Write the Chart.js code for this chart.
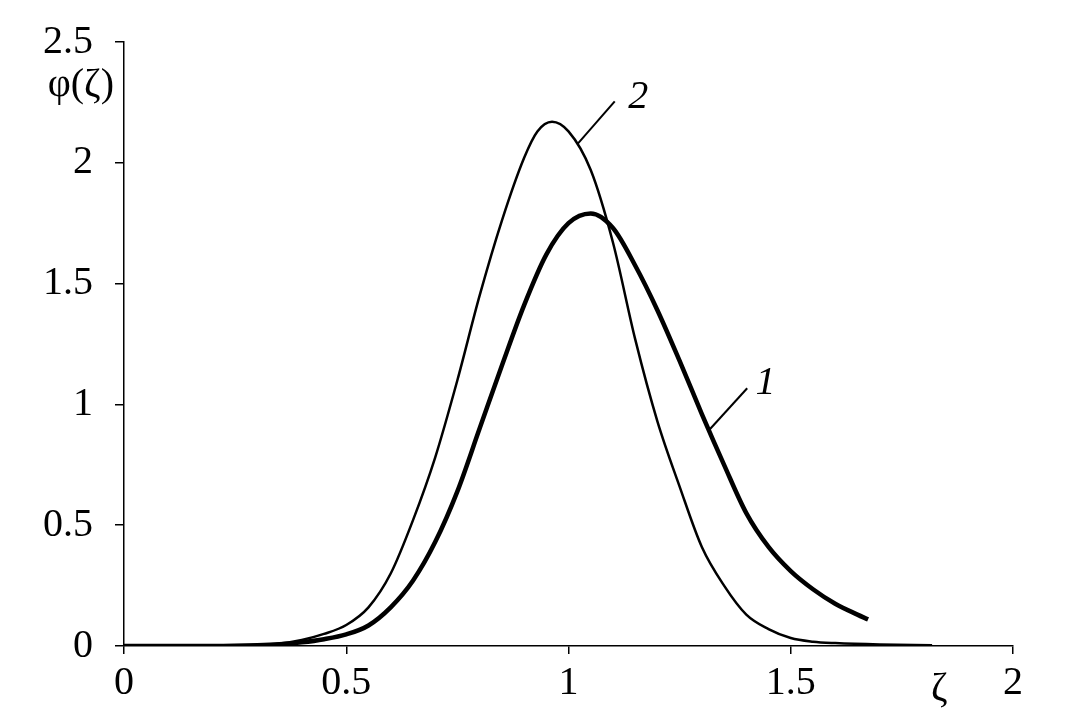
<!DOCTYPE html>
<html>
<head>
<meta charset="utf-8">
<script src="https://cdn.jsdelivr.net/npm/chart.js@4"></script>
<style>
  body { margin: 0; background: #fff; }
  canvas { display: block; }
</style>
</head>
<body>
<canvas id="chart1" width="1081" height="719"></canvas>
<script>
// curve 1 (thick)
const xs1 = [0, 0.1, 0.2, 0.3, 0.35, 0.4, 0.45, 0.5, 0.55, 0.6, 0.65, 0.7, 0.75, 0.8, 0.85, 0.9, 0.95, 1.0, 1.05, 1.1, 1.15, 1.2, 1.25, 1.3, 1.35, 1.4, 1.45, 1.5, 1.55, 1.6, 1.65, 1.674];
const ys1 = [0, 0, 0, 0.003, 0.007, 0.015, 0.028, 0.048, 0.085, 0.16, 0.27, 0.43, 0.64, 0.9, 1.16, 1.41, 1.62, 1.75, 1.79, 1.73, 1.575, 1.39, 1.18, 0.96, 0.75, 0.55, 0.41, 0.31, 0.235, 0.175, 0.13, 0.11];
// curve 2 (thin)
const xs2 = [0, 0.2, 0.3, 0.35, 0.4, 0.45, 0.5, 0.55, 0.6, 0.65, 0.7, 0.75, 0.8, 0.85, 0.9, 0.93, 0.963, 1.0, 1.05, 1.1, 1.15, 1.2, 1.25, 1.3, 1.35, 1.4, 1.45, 1.5, 1.55, 1.6, 1.7, 1.818];
const ys2 = [0, 0, 0.004, 0.01, 0.025, 0.05, 0.087, 0.16, 0.3, 0.52, 0.78, 1.1, 1.45, 1.76, 2.02, 2.13, 2.17, 2.13, 1.97, 1.67, 1.27, 0.93, 0.66, 0.41, 0.25, 0.13, 0.07, 0.033, 0.018, 0.012, 0.006, 0.003];

const xTicks = [0, 0.5, 1, 1.5, 2];
const yTicks = [0, 0.5, 1, 1.5, 2, 2.5];

const serif = '"Liberation Serif", "Times New Roman", serif';

const pts = (xs, ys) => xs.map((x, i) => ({ x: x, y: ys[i] }));

// curve labels: leader line start, end, text position
const labels = [
  { text: '2', from: [1.021, 2.079], to: [1.104, 2.254], at: [1.157, 2.27] },
  { text: '1', from: [1.318, 0.897], to: [1.402, 1.067], at: [1.443, 1.085] }
];

const annotate = {
  id: 'annotate',
  afterDatasetsDraw(chart) {
    const c = chart.ctx, x = chart.scales.x, y = chart.scales.y;
    c.save();
    c.strokeStyle = '#000';
    c.fillStyle = '#000';
    c.lineWidth = 2;
    labels.forEach(l => {
      c.beginPath();
      c.moveTo(x.getPixelForValue(l.from[0]), y.getPixelForValue(l.from[1]));
      c.lineTo(x.getPixelForValue(l.to[0]), y.getPixelForValue(l.to[1]));
      c.stroke();
      c.font = 'italic 40px ' + serif;
      c.textAlign = 'center';
      c.textBaseline = 'middle';
      c.fillText(l.text, x.getPixelForValue(l.at[0]), y.getPixelForValue(l.at[1]));
    });
    c.font = '40px ' + serif;
    c.textAlign = 'right';
    c.textBaseline = 'middle';
    c.fillText('φ(ζ)', chart.chartArea.left - 10, y.getPixelForValue(2.32));
    c.textAlign = 'center';
    c.fillText('ζ', x.getPixelForValue(1.834), chart.chartArea.bottom + 43);
    c.restore();
  }
};

new Chart(document.getElementById('chart1').getContext('2d'), {
  type: 'line',
  data: {
    datasets: [
      {
        label: '1',
        data: pts(xs1, ys1),
        borderColor: '#000',
        borderWidth: 4.5,
        pointRadius: 0,
        cubicInterpolationMode: 'monotone',
        fill: false
      },
      {
        label: '2',
        data: pts(xs2, ys2),
        borderColor: '#000',
        borderWidth: 2.5,
        pointRadius: 0,
        cubicInterpolationMode: 'monotone',
        fill: false
      }
    ]
  },
  options: {
    responsive: false,
    animation: false,
    layout: { padding: { top: 42, right: 68, bottom: 0, left: 0 } },
    scales: {
      x: {
        type: 'linear',
        min: 0,
        max: 2,
        afterBuildTicks: s => { s.ticks = xTicks.map(v => ({ value: v })); },
        afterFit: s => { s.height = 73; },
        grid: { drawOnChartArea: false, drawTicks: true, tickLength: 8, color: '#000', lineWidth: 1.5 },
        border: { display: true, color: '#000', width: 1.5 },
        ticks: { color: '#000', font: { family: serif, size: 40 }, padding: 5, maxRotation: 0, callback: v => String(v) }
      },
      y: {
        min: 0,
        max: 2.5,
        afterBuildTicks: s => { s.ticks = yTicks.map(v => ({ value: v })); },
        afterFit: s => { s.width = 124; },
        grid: { drawOnChartArea: false, drawTicks: true, tickLength: 9, color: '#000', lineWidth: 1.5 },
        border: { display: true, color: '#000', width: 1.5 },
        ticks: { color: '#000', font: { family: serif, size: 40, lineHeight: 1 }, padding: 22, callback: v => String(v) }
      }
    },
    plugins: {
      legend: { display: false },
      tooltip: { enabled: false }
    }
  },
  plugins: [annotate]
});
</script>
</body>
</html>
